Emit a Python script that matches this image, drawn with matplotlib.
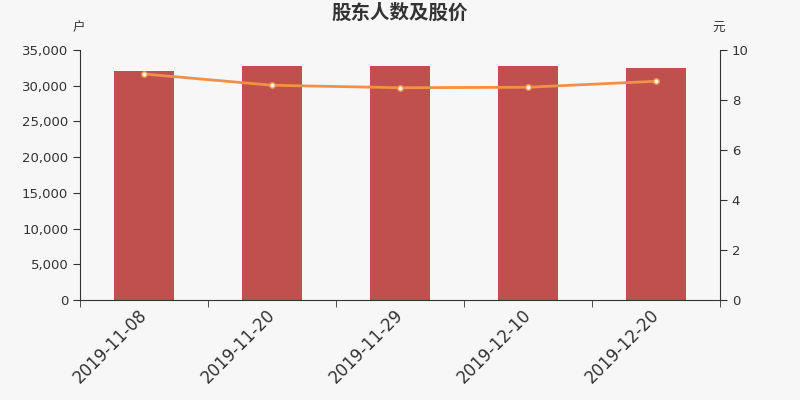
import numpy as np
import matplotlib
matplotlib.use("Agg")
from matplotlib import pyplot as plt
from matplotlib.ticker import FuncFormatter, FixedLocator

plt.rcParams['font.family'] = ['Noto Sans CJK SC', 'DejaVu Sans']

dates = ["2019-11-08", "2019-11-20", "2019-11-29", "2019-12-10", "2019-12-20"]
holders = [32020, 32720, 32740, 32800, 32520]
price = [9.04, 8.59, 8.49, 8.51, 8.75]

bg = "#f7f7f7"
txt = "#333333"

fig = plt.figure(figsize=(8, 4), dpi=100, facecolor=bg)
ax = fig.add_axes([0.1, 0.25, 0.8, 0.625])
ax.set_facecolor(bg)
ax2 = ax.twinx()

x = np.arange(len(dates))
ax.bar(x, holders, width=0.47, color="#c0504d", zorder=2)
ax2.plot(x, price, color="#f0904a", lw=2, marker="o", ms=4,
         mfc="#fff5e6", mec="#f0904a", mew=1, zorder=3)

ax.set_xlim(-0.5, len(dates) - 0.5)
ax.set_ylim(0, 35000)
ax2.set_ylim(0, 10)
ax.set_yticks(np.arange(0, 35001, 5000))
ax2.set_yticks(np.arange(0, 11, 2))
ax.yaxis.set_major_formatter(FuncFormatter(lambda v, p: f"{int(v):,}"))

ax.set_xticks(x)
ax.set_xticklabels(dates, rotation=45, ha="right", va="center",
                   rotation_mode="anchor", fontsize=12, color=txt,
                   family="DejaVu Sans")
ax.tick_params(axis="x", length=0, pad=9)
ax.xaxis.set_minor_locator(FixedLocator(np.arange(-0.5, len(dates), 1.0)))
ax.tick_params(axis="x", which="minor", length=5, color=txt)

for a in (ax, ax2):
    a.tick_params(axis="y", labelsize=9.5, colors=txt, length=5)
    for lab in a.get_yticklabels():
        lab.set_family("DejaVu Sans")
    a.spines["top"].set_visible(False)
    for s in ("left", "right", "bottom"):
        a.spines[s].set_color(txt)
ax.spines["right"].set_visible(False)
ax2.spines["left"].set_visible(False)
ax2.spines["bottom"].set_visible(False)

fig.text(0.5, 0.967, "股东人数及股价", ha="center", va="center",
         fontsize=14, color=txt, fontweight="bold")
fig.text(0.098, 0.93, "户", ha="center", va="center", fontsize=9, color=txt)
fig.text(0.898, 0.93, "元", ha="center", va="center", fontsize=9, color=txt)

fig.savefig("out.png", dpi=100, facecolor=bg)
